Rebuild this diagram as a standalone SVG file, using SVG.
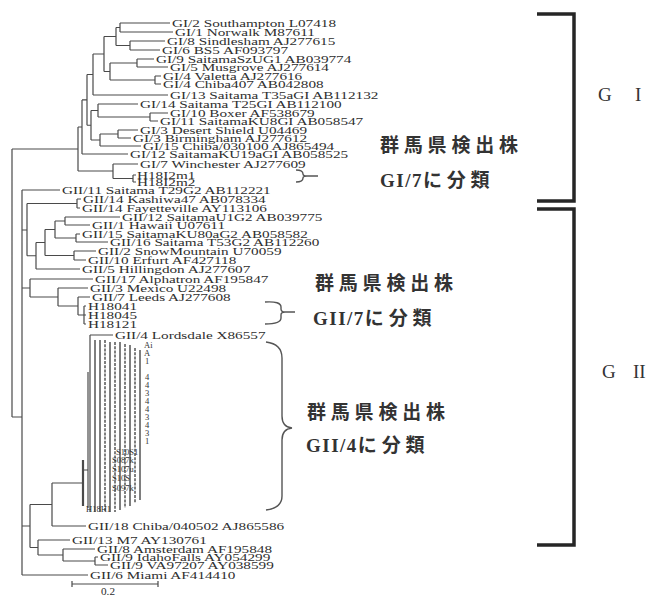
<svg xmlns="http://www.w3.org/2000/svg" width="655" height="598" viewBox="0 0 655 598">
<style>
.t{font-family:"Liberation Serif","Times New Roman",serif;font-size:11.2px;fill:#2e2e2e}
.br{fill:none;stroke:#4a4a4a;stroke-width:1.2}
.thick{fill:none;stroke:#262626;stroke-width:3.5}
.brace{fill:none;stroke:#555;stroke-width:1.4}
.jp{font-family:"Noto Sans CJK JP","Noto Sans CJK SC",sans-serif;font-size:19px;font-weight:700;fill:#333;letter-spacing:4.8px}
.jl{font-family:"Liberation Serif",serif;font-weight:700;letter-spacing:1.5px}
.grp{font-family:"Liberation Serif",serif;font-size:19px;fill:#333}
.frag{font-family:"Liberation Serif",serif;font-size:8.5px;fill:#333}
.col{stroke:#3a3a3a;stroke-width:1.3}
</style>
<rect width="655" height="598" fill="#fff"/>
<g id="connectors">
<path class="br" d="M12,149V417 M12,149H78 M12,417H22
M78,127V171 M78,127H82 M78,171H113
M82,99.9V154 M82,99.9H87 M82,154H128
M87,74.5V125.25 M87,74.5H93 M87,125.25H91
M93,54V95 M93,54H104 M93,95H168
M104,36.5V71.5 M104,36.5H116 M104,71.5H110
M116,27.5V45.5 M116,27.5H120 M116,45.5H130
M120,23V32 M120,23H170 M120,32H173
M130,41V50 M130,41H165 M130,50H160
M110,63V80 M110,63H137 M110,80H155
M137,59V67 M137,59H154 M137,67H168
M155,76V84 M155,76H161 M155,84H161
M91,110.5V140 M91,110.5H98 M91,140H100
M98,104V117 M98,104H138 M98,117H150
M150,113V121 M150,113H168 M150,121H158
M100,134V146 M100,134H118 M100,146H141
M118,130V138 M118,130H138 M118,138H131
M113,164V178.5 M113,164H138 M113,178.5H133
M133,175V182 M133,175H136 M133,182H136
M22,190V575 M22,190H60 M22,230H27 M22,288H30 M22,526H30 M22,575H88
M27,203.5V255.75 M27,203.5H77 M27,255.75H36
M77,199V208 M77,199H81 M77,208H80
M36,242.5V269 M36,242.5H45 M36,269H80
M45,229.5V255.5 M45,229.5H55 M45,255.5H74
M55,221V238 M55,221H65 M55,238H76
M65,217V225 M65,217H120 M65,225H90
M76,234V242 M76,234H80 M76,242H108
M74,251V260 M74,251H96 M74,260H86
M30,279V297 M30,279H93 M30,297H58
M58,288V306 M58,288H88 M58,306H78
M78,297V315 M78,297H90 M78,315H84
M84,306V324 M84,306H86 M84,315H86 M84,324H86
M30,504.5V547.5 M30,504.5H52 M30,547.5H38
M52,483V526 M52,483H83 M52,526H86
M38,540V555 M38,540H70 M38,555H63
M63,549V561 M63,549H95 M63,561H95
M95,557V565 M95,557H98 M95,565H108
M83,470H88 M88,372V508 M90,335V512 M90,335H113"/>
<path class="br" style="stroke-width:2.2" d="M83,460V506"/>
<g id="gii4-columns" class="col">
<path d="M95,340V512 M100,340V512 M110,342V512 M120,342V510 M130,345V506 M140,350V500"/>
<path d="M105,340V512 M115,342V512 M125,344V508 M135,348V503" stroke-dasharray="3 1.2"/>
</g>
</g>
<g id="GI-leaves">
<g id="gi2"><text class="t" transform="translate(172,27) scale(1.36 1)">GI/2 Southampton L07418</text></g>
<g id="gi1"><text class="t" transform="translate(175,36) scale(1.36 1)">GI/1 Norwalk M87611</text></g>
<g id="gi8"><text class="t" transform="translate(167,45) scale(1.36 1)">GI/8 Sindlesham AJ277615</text></g>
<g id="gi6"><text class="t" transform="translate(162,54) scale(1.36 1)">GI/6 BS5 AF093797</text></g>
<g id="gi9"><text class="t" transform="translate(156,63) scale(1.36 1)">GI/9 SaitamaSzUG1 AB039774</text></g>
<g id="gi5"><text class="t" transform="translate(170,71) scale(1.36 1)">GI/5 Musgrove AJ277614</text></g>
<g id="gi4a"><text class="t" transform="translate(163,80) scale(1.36 1)">GI/4 Valetta AJ277616</text></g>
<g id="gi4b"><text class="t" transform="translate(163,88) scale(1.36 1)">GI/4 Chiba407 AB042808</text></g>
<g id="gi13"><text class="t" transform="translate(170,99) scale(1.36 1)">GI/13 Saitama T35aGI AB112132</text></g>
<g id="gi14"><text class="t" transform="translate(140,108) scale(1.36 1)">GI/14 Saitama T25GI AB112100</text></g>
<g id="gi10"><text class="t" transform="translate(170,117) scale(1.36 1)">GI/10 Boxer AF538679</text></g>
<g id="gi11"><text class="t" transform="translate(160,125) scale(1.36 1)">GI/11 SaitamaKU8GI AB058547</text></g>
<g id="gi3a"><text class="t" transform="translate(140,134) scale(1.36 1)">GI/3 Desert Shield U04469</text></g>
<g id="gi3b"><text class="t" transform="translate(133,142) scale(1.36 1)">GI/3 Birmingham AJ277612</text></g>
<g id="gi15"><text class="t" transform="translate(143,150) scale(1.36 1)">GI/15 Chiba/030100 AJ865494</text></g>
<g id="gi12"><text class="t" transform="translate(130,158) scale(1.36 1)">GI/12 SaitamaKU19aGI AB058525</text></g>
<g id="gi7"><text class="t" transform="translate(140,168) scale(1.36 1)">GI/7 Winchester AJ277609</text></g>
<g id="h18i2m1"><text class="t" transform="translate(137,179) scale(1.36 1)">H18I2m1</text></g>
<g id="h18i2m2"><text class="t" transform="translate(137,186) scale(1.36 1)">H18I2m2</text></g>
</g>
<g id="GII-leaves">
<g id="gii11"><text class="t" transform="translate(62,194) scale(1.36 1)">GII/11 Saitama T29G2 AB112221</text></g>
<g id="gii14a"><text class="t" transform="translate(83,203) scale(1.36 1)">GII/14 Kashiwa47 AB078334</text></g>
<g id="gii14b"><text class="t" transform="translate(82,212) scale(1.36 1)">GII/14 Fayetteville AY113106</text></g>
<g id="gii12"><text class="t" transform="translate(122,221) scale(1.36 1)">GII/12 SaitamaU1G2 AB039775</text></g>
<g id="gii1"><text class="t" transform="translate(92,229) scale(1.36 1)">GII/1 Hawaii U07611</text></g>
<g id="gii15"><text class="t" transform="translate(82,238) scale(1.36 1)">GII/15 SaitamaKU80aG2 AB058582</text></g>
<g id="gii16"><text class="t" transform="translate(110,246) scale(1.36 1)">GII/16 Saitama T53G2 AB112260</text></g>
<g id="gii2"><text class="t" transform="translate(98,255) scale(1.36 1)">GII/2 SnowMountain U70059</text></g>
<g id="gii10"><text class="t" transform="translate(88,264) scale(1.36 1)">GII/10 Erfurt AF427118</text></g>
<g id="gii5"><text class="t" transform="translate(82,273) scale(1.36 1)">GII/5 Hillingdon AJ277607</text></g>
<g id="gii17"><text class="t" transform="translate(95,283) scale(1.36 1)">GII/17 Alphatron AF195847</text></g>
<g id="gii3"><text class="t" transform="translate(90,292) scale(1.36 1)">GII/3 Mexico U22498</text></g>
<g id="gii7"><text class="t" transform="translate(92,301) scale(1.36 1)">GII/7 Leeds AJ277608</text></g>
<g id="h18041"><text class="t" transform="translate(88,310) scale(1.36 1)">H18041</text></g>
<g id="h18045"><text class="t" transform="translate(88,319) scale(1.36 1)">H18045</text></g>
<g id="h18121"><text class="t" transform="translate(88,328) scale(1.36 1)">H18121</text></g>
<g id="gii4"><text class="t" transform="translate(115,339) scale(1.36 1)">GII/4 Lordsdale X86557</text></g>
<g id="gii4-tips" class="frag">
<text x="144" y="348">Ai</text><text x="144" y="356">A</text><text x="145" y="364">1</text>
<text x="145" y="380">4</text><text x="145" y="388">4</text><text x="145" y="396">3</text>
<text x="145" y="404">4</text><text x="145" y="412">4</text><text x="145" y="420">3</text>
<text x="145" y="428">4</text><text x="145" y="436">3</text><text x="145" y="444">1</text>
<text x="116" y="455">S10S1</text><text x="112" y="463">S087k</text><text x="112" y="472">S107u</text>
<text x="112" y="481">S10S</text><text x="112" y="491">S097k</text><text x="86" y="512">H18H1</text>
</g>
<g id="gii18"><text class="t" transform="translate(88,530) scale(1.36 1)">GII/18 Chiba/040502 AJ865586</text></g>
<g id="gii13"><text class="t" transform="translate(72,544) scale(1.36 1)">GII/13 M7 AY130761</text></g>
<g id="gii8"><text class="t" transform="translate(97,553) scale(1.36 1)">GII/8 Amsterdam AF195848</text></g>
<g id="gii9a"><text class="t" transform="translate(100,561) scale(1.36 1)">GII/9 IdahoFalls AY054299</text></g>
<g id="gii9b"><text class="t" transform="translate(110,569) scale(1.36 1)">GII/9 VA97207 AY038599</text></g>
<g id="gii6"><text class="t" transform="translate(90,579) scale(1.36 1)">GII/6 Miami AF414410</text></g>
</g>
<g id="scale-bar">
<path class="br" d="M72,584H158 M72,581V587 M158,581V587"/>
<text class="t" x="101" y="595">0.2</text>
</g>
<g id="braces">
<path class="brace" d="M296,170 Q303,170 303,174 Q303,176 307,176 Q303,176 303,178 Q303,182 296,182 M307,176H318"/>
<path class="brace" d="M265,302 Q281,301 281,307 V309 Q281,312 285,312 Q281,312 281,315 V318 Q281,324 265,324 M285,312H295"/>
<path class="brace" d="M266,342 Q282,344 282,358 V416 Q282,427 292,428 Q282,429 282,440 V496 Q282,508 266,510"/>
</g>
<g id="GI-bracket"><path class="thick" d="M537,14H574V201H537"/>
<text class="grp" x="598" y="101">G</text><text class="grp" x="635" y="101">I</text></g>
<g id="GII-bracket"><path class="thick" d="M537,209H574V545H537"/>
<text class="grp" x="602" y="378">G</text><text class="grp" x="633" y="378">II</text></g>
<g id="label-gi7">
<text class="jp" x="380" y="152">群馬県検出株</text>
<text class="jp" x="380" y="187"><tspan class="jl">GI/7</tspan>に分類</text>
</g>
<g id="label-gii7">
<text class="jp" x="315" y="290">群馬県検出株</text>
<text class="jp" x="313" y="325"><tspan class="jl">GII/7</tspan>に分類</text>
</g>
<g id="label-gii4">
<text class="jp" x="307" y="419">群馬県検出株</text>
<text class="jp" x="306" y="452"><tspan class="jl">GII/4</tspan>に分類</text>
</g>
</svg>
